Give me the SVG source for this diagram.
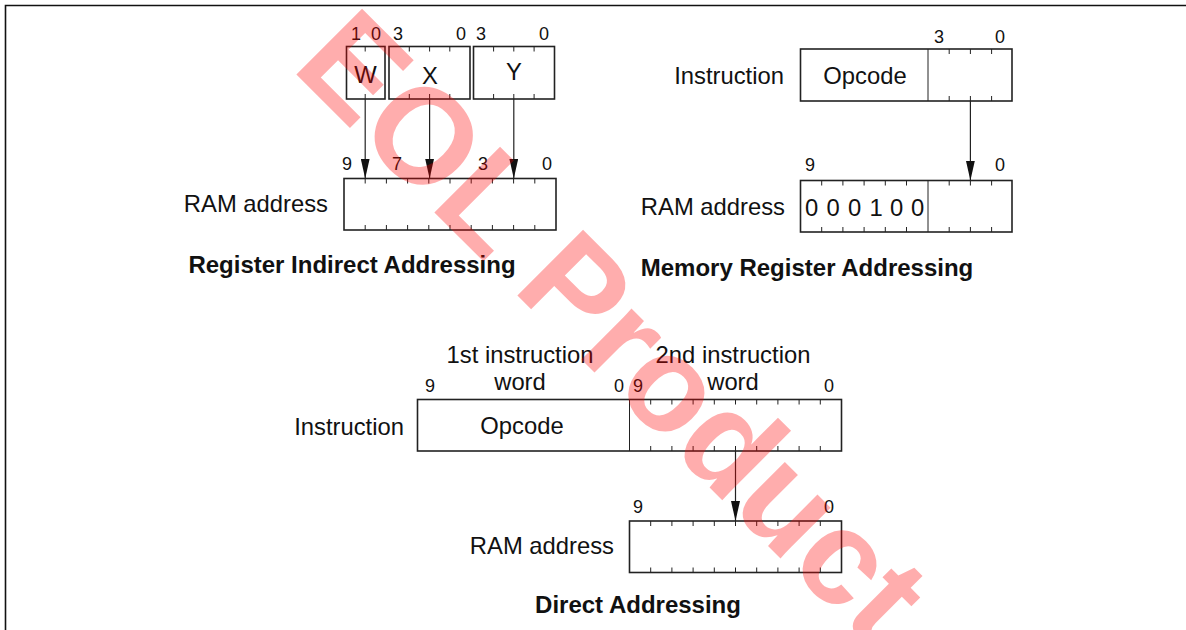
<svg xmlns="http://www.w3.org/2000/svg" width="1186" height="630" viewBox="0 0 1186 630">
<defs>
<style>
.t{font-family:"Liberation Sans",Arial,sans-serif;font-size:23.8px;fill:#111}
.b{font-family:"Liberation Sans",Arial,sans-serif;font-size:18px;fill:#111;text-anchor:middle}
.h{font-family:"Liberation Sans",Arial,sans-serif;font-size:24px;font-weight:bold;fill:#111;text-anchor:middle}
.m{text-anchor:middle}
.e{text-anchor:end}
.box{fill:#fff;stroke:#222;stroke-width:1.6}
.tk{stroke:#222;stroke-width:1;fill:none}
.ln{stroke:#222;stroke-width:1.2;fill:none}
.wm{font-family:"Liberation Sans",Arial,sans-serif;font-size:135px;font-weight:bold;fill:#ff0000;fill-opacity:0.32}
</style>
<marker id="ah" viewBox="0 0 20 9" refX="20" refY="4.5" markerWidth="20" markerHeight="9" markerUnits="userSpaceOnUse" orient="auto">
<path d="M0,0 L20,4.5 L0,9 Z" fill="#111"/>
</marker>
</defs>
<rect x="0" y="0" width="1186" height="630" fill="#fff"/>
<path d="M5.5,630 V5.5 H1186" stroke="#111" stroke-width="1.6" fill="none"/>

<!-- Register Indirect Addressing -->
<g id="reg-w">
<rect class="box" x="346.5" y="46.5" width="38.5" height="52.5"/>
<path class="tk" d="M365.2,46.5v5M365.2,99v-5"/>
<text class="t m" x="365.5" y="83">W</text>
<text class="b" x="356" y="40">1</text>
<text class="b" x="376" y="40">0</text>
</g>
<g id="reg-x">
<rect class="box" x="389" y="46.5" width="81" height="52.5"/>
<path class="tk" d="M409.3,46.5v5M429.6,46.5v5M449.8,46.5v5M409.3,99v-5M429.6,99v-5M449.8,99v-5"/>
<text class="t m" x="430" y="84">X</text>
<text class="b" x="398" y="40">3</text>
<text class="b" x="461" y="40">0</text>
</g>
<g id="reg-y">
<rect class="box" x="473.5" y="46.5" width="81" height="52.5"/>
<path class="tk" d="M493.6,46.5v5M513.8,46.5v5M534.1,46.5v5M493.6,99v-5M513.8,99v-5M534.1,99v-5"/>
<text class="t m" x="514" y="80">Y</text>
<text class="b" x="481" y="40">3</text>
<text class="b" x="544" y="40">0</text>
</g>
<g id="reg-ram">
<text class="t e" x="328" y="212">RAM address</text>
<rect class="box" x="344" y="178.5" width="212" height="51.5"/>
<path class="tk" d="M365.2,178.5v5M386.4,178.5v5M407.6,178.5v5M428.8,178.5v5M450,178.5v5M471.2,178.5v5M492.4,178.5v5M513.6,178.5v5M534.8,178.5v5M365.2,230v-5M386.4,230v-5M407.6,230v-5M428.8,230v-5M450,230v-5M471.2,230v-5M492.4,230v-5M513.6,230v-5M534.8,230v-5"/>
<text class="b" x="347" y="170">9</text>
<text class="b" x="397" y="170">7</text>
<text class="b" x="483" y="170">3</text>
<text class="b" x="547" y="170">0</text>
</g>
<g id="title-reg"><text class="h" x="352" y="273">Register Indirect Addressing</text></g>

<!-- Memory Register Addressing -->
<g id="mem-instr">
<text class="t e" x="784" y="84">Instruction</text>
<rect class="box" x="800.5" y="49" width="211.5" height="52"/>
<path class="tk" d="M928,49V101M949.2,49v5M970.4,49v5M991.6,49v5M949.2,101v-5M970.4,101v-5M991.6,101v-5"/>
<text class="t m" x="865" y="84">Opcode</text>
<text class="b" x="939" y="43">3</text>
<text class="b" x="1000" y="43">0</text>
</g>
<g id="mem-ram">
<text class="t e" x="785" y="215">RAM address</text>
<rect class="box" x="800.5" y="180.5" width="211.5" height="51.5"/>
<path class="tk" d="M928,180.5V232M821.7,180.5v5M842.9,180.5v5M864.1,180.5v5M885.3,180.5v5M906.5,180.5v5M949.2,180.5v5M970.4,180.5v5M991.6,180.5v5M821.7,232v-5M842.9,232v-5M864.1,232v-5M885.3,232v-5M906.5,232v-5M949.2,232v-5M970.4,232v-5M991.6,232v-5"/>
<text class="t m" x="811.5" y="215.5">0</text>
<text class="t m" x="833" y="215.5">0</text>
<text class="t m" x="854.5" y="215.5">0</text>
<text class="t m" x="876" y="215.5">1</text>
<text class="t m" x="896.5" y="215.5">0</text>
<text class="t m" x="917.5" y="215.5">0</text>
<text class="b" x="810" y="171">9</text>
<text class="b" x="1000" y="171">0</text>
</g>
<g id="title-mem"><text class="h" x="807" y="276">Memory Register Addressing</text></g>

<!-- Direct Addressing -->
<g id="dir-instr">
<text class="t e" x="404" y="435">Instruction</text>
<rect class="box" x="417.5" y="399.5" width="424" height="51.5"/>
<path class="tk" d="M629.5,399.5V451M650.7,399.5v5M671.9,399.5v5M693.1,399.5v5M714.3,399.5v5M735.5,399.5v5M756.7,399.5v5M777.9,399.5v5M799.1,399.5v5M820.3,399.5v5M650.7,451v-5M671.9,451v-5M693.1,451v-5M714.3,451v-5M735.5,451v-5M756.7,451v-5M777.9,451v-5M799.1,451v-5M820.3,451v-5"/>
<text class="t m" x="522" y="434">Opcode</text>
<text class="t m" x="520" y="363">1st instruction</text>
<text class="t m" x="520" y="390">word</text>
<text class="t m" x="733" y="363">2nd instruction</text>
<text class="t m" x="733" y="390">word</text>
<text class="b" x="430" y="392">9</text>
<text class="b" x="619" y="392">0</text>
<text class="b" x="638" y="392">9</text>
<text class="b" x="829" y="392">0</text>
</g>
<g id="dir-ram">
<text class="t e" x="614" y="554">RAM address</text>
<rect class="box" x="629.5" y="521" width="212" height="51.5"/>
<path class="tk" d="M650.7,521v5M671.9,521v5M693.1,521v5M714.3,521v5M735.5,521v5M756.7,521v5M777.9,521v5M799.1,521v5M820.3,521v5M650.7,572.5v-5M671.9,572.5v-5M693.1,572.5v-5M714.3,572.5v-5M735.5,572.5v-5M756.7,572.5v-5M777.9,572.5v-5M799.1,572.5v-5M820.3,572.5v-5"/>
<text class="b" x="638" y="513">9</text>
<text class="b" x="829" y="513">0</text>
</g>
<g id="title-dir"><text class="h" x="638" y="613">Direct Addressing</text></g>

<!-- connectors -->
<g id="connectors">
<path class="ln" d="M365.2,99V178.5" marker-end="url(#ah)"/>
<path class="ln" d="M429.6,99V178.5" marker-end="url(#ah)"/>
<path class="ln" d="M513.8,99V178.5" marker-end="url(#ah)"/>
<path class="ln" d="M970.4,101V180.5" marker-end="url(#ah)"/>
<path class="ln" d="M735.5,451V521" marker-end="url(#ah)"/>
</g>

<!-- watermark -->
<text class="wm" x="290" y="68" transform="rotate(45 290 68)">EOL Product</text>
</svg>
